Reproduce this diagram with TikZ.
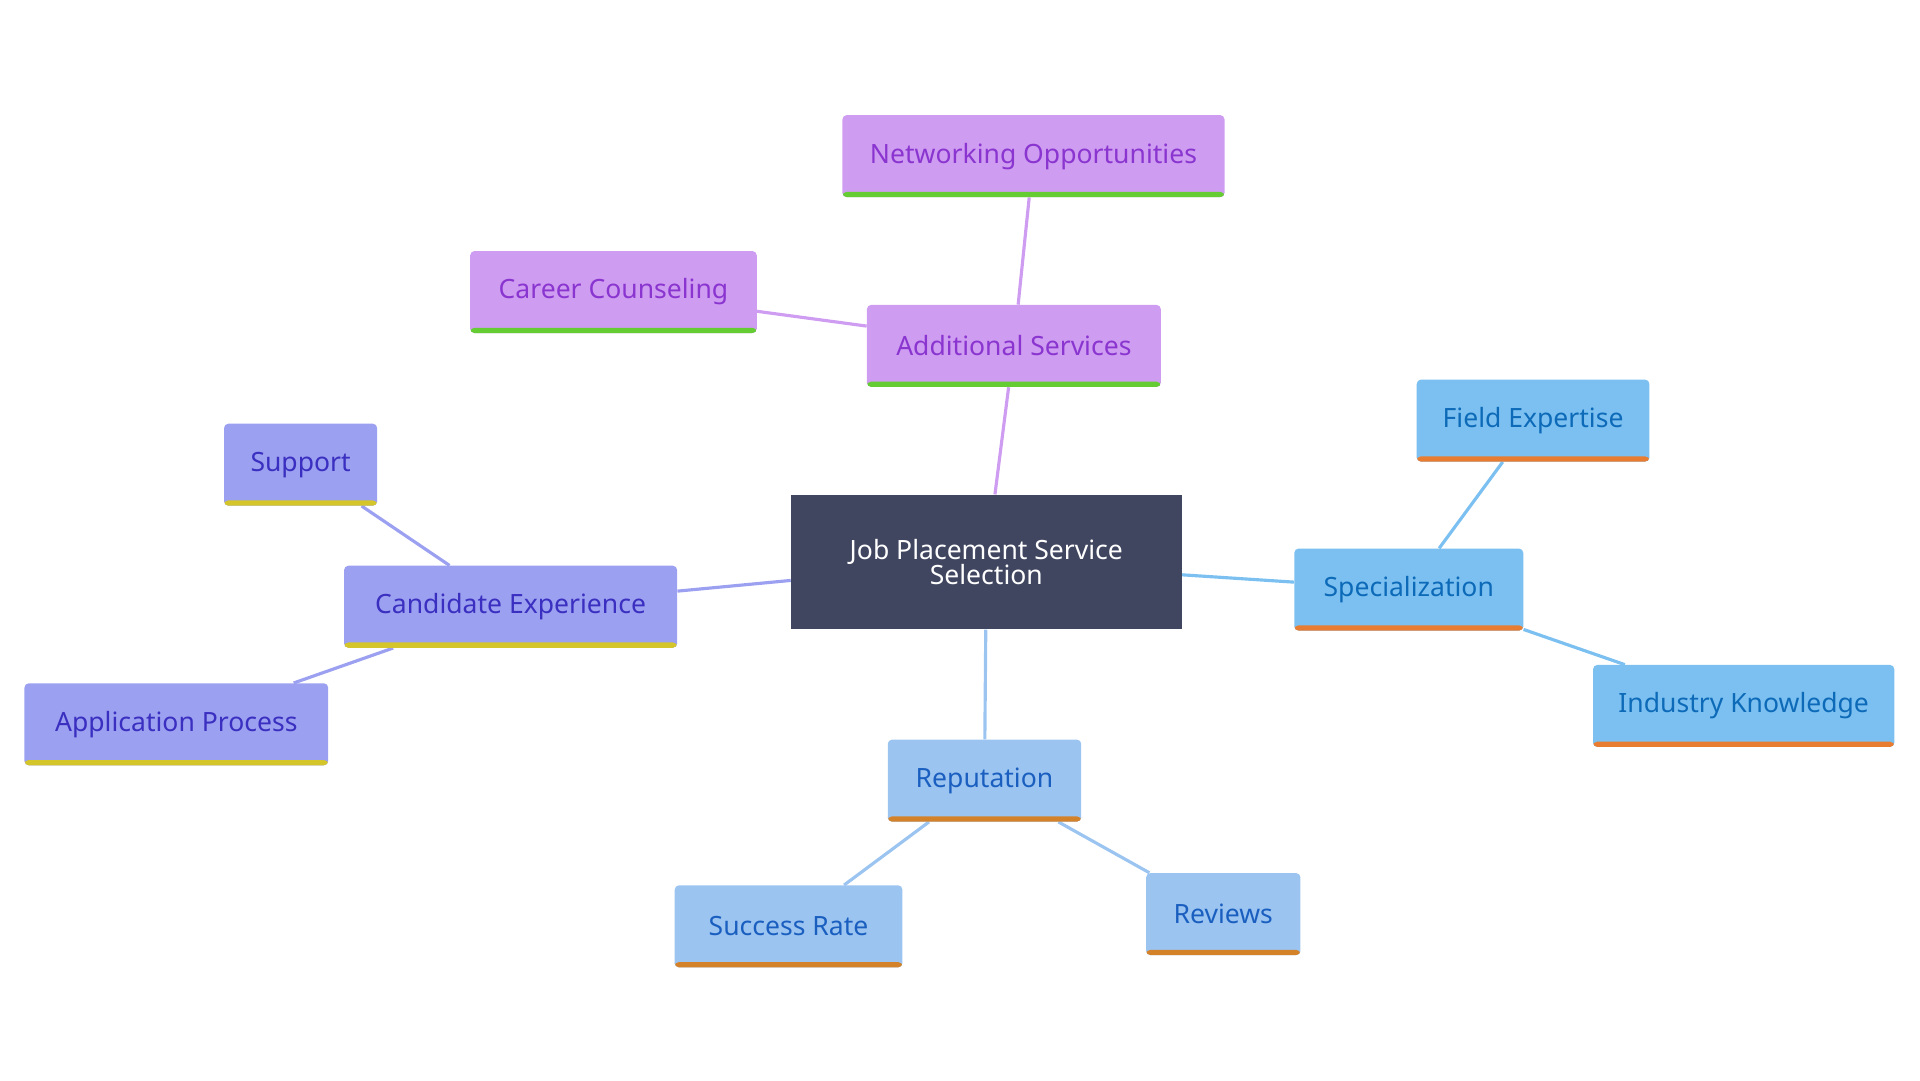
\documentclass[tikz,border=0pt]{standalone}
\usepackage{fontspec}
\setmainfont{Noto Sans}
\usetikzlibrary{backgrounds}
\definecolor{rootfill}{RGB}{64,70,96}
\definecolor{purfill}{RGB}{206,156,240}
\definecolor{purtext}{RGB}{138,53,208}
\definecolor{purbar}{RGB}{102,204,51}
\definecolor{skyfill}{RGB}{123,192,240}
\definecolor{skytext}{RGB}{13,106,184}
\definecolor{skybar}{RGB}{232,125,50}
\definecolor{palefill}{RGB}{155,196,240}
\definecolor{paletext}{RGB}{26,95,192}
\definecolor{palebar}{RGB}{212,130,42}
\definecolor{viofill}{RGB}{155,160,240}
\definecolor{viotext}{RGB}{58,47,192}
\definecolor{viobar}{RGB}{212,198,42}

\begin{document}
\begin{tikzpicture}[x=0.03cm, y=-0.03cm]
%node styles
\tikzstyle{box}=[rectangle, rounded corners=3pt, inner sep=0pt, font=\fontsize{18.5}{22}\selectfont]
\tikzstyle{bar}=[path picture={\fill[#1] (path picture bounding box.south west) rectangle ([yshift=0.13cm]path picture bounding box.south east);}]
\tikzstyle{purple}=[box, fill=purfill, text=purtext, bar=purbar]
\tikzstyle{sky}=[box, fill=skyfill, text=skytext, bar=skybar]
\tikzstyle{pale}=[box, fill=palefill, text=paletext, bar=palebar]
\tikzstyle{violet}=[box, fill=viofill, text=viotext, bar=viobar]
\tikzstyle{link}=[line width=2.2pt]

\useasboundingbox (0,0) rectangle (1568,882);

%root
\node[box, rounded corners=0pt, fill=rootfill, text=white, align=center, minimum width=9.57cm, minimum height=3.3cm] (root) at (805.5,459) {Job Placement Service\\[-4pt]Selection};

%additional services
\node[purple, minimum width=7.2cm, minimum height=2.01cm] (add) at (828,282.5) {Additional Services};
\node[purple, minimum width=9.36cm, minimum height=2.01cm] (net) at (844,127.5) {Networking Opportunities};
\node[purple, minimum width=7.02cm, minimum height=2.01cm] (car) at (501,238.5) {Career Counseling};

%specialization
\node[sky, minimum width=5.61cm, minimum height=2.01cm] (spec) at (1150.5,481.5) {Specialization};
\node[sky, minimum width=5.7cm, minimum height=2.01cm] (field) at (1252,343.5) {Field Expertise};
\node[sky, minimum width=7.38cm, minimum height=2.01cm] (ind) at (1424,576.5) {Industry Knowledge};

%reputation
\node[pale, minimum width=4.74cm, minimum height=2.01cm] (rep) at (804,637.5) {Reputation};
\node[pale, minimum width=5.58cm, minimum height=2.01cm] (succ) at (644,756.5) {Success Rate};
\node[pale, minimum width=3.78cm, minimum height=2.01cm] (rev) at (999,746.5) {Reviews};

%candidate experience
\node[violet, minimum width=8.16cm, minimum height=2.01cm] (cand) at (417,495.5) {Candidate Experience};
\node[violet, minimum width=3.75cm, minimum height=2.01cm] (sup) at (245.5,379.5) {Support};
\node[violet, minimum width=7.44cm, minimum height=2.01cm] (app) at (144,591.5) {Application Process};

%connectors
\begin{scope}[on background layer]
\draw[link, color=purfill] (root) -- (add) (add) -- (net) (add) -- (car);
\draw[link, color=skyfill] (root) -- (spec) (spec) -- (field) (spec) -- (ind);
\draw[link, color=palefill] (root) -- (rep) (rep) -- (succ) (rep) -- (rev);
\draw[link, color=viofill] (root) -- (cand) (cand) -- (sup) (cand) -- (app);
\end{scope}
\end{tikzpicture}
\end{document}
